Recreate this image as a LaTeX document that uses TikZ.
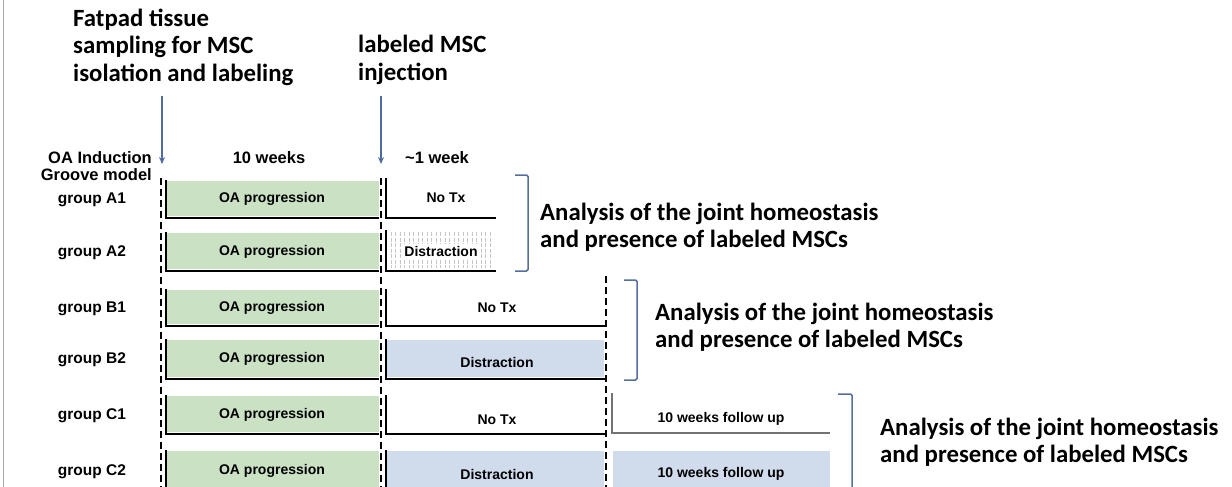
\documentclass[tikz,border=0pt]{standalone}
\usepackage{fontspec}
\setmainfont{Carlito}
\newfontfamily\ar{Liberation Sans}
\usetikzlibrary{arrows.meta}
\definecolor{oagreen}{RGB}{202,225,196}
\definecolor{oablue}{RGB}{208,219,236}
\definecolor{bracecol}{RGB}{84,110,160}
\definecolor{arrcol}{RGB}{80,108,158}
\begin{document}
\begin{tikzpicture}[x=1pt,y=-1pt,
  big/.style={font=\bfseries\fontsize{24.8}{27.5}\selectfont, align=left, inner sep=0pt, anchor=west},
  hdr/.style={font=\ar\bfseries\fontsize{16.5}{17}\selectfont, inner sep=0pt},
  grp/.style={font=\ar\bfseries\fontsize{15.5}{17}\selectfont, inner sep=0pt},
  small/.style={font=\ar\bfseries\fontsize{14}{16}\selectfont, inner sep=1pt},
  dashv/.style={line width=2pt, dash pattern=on 7pt off 4pt},
  frame/.style={line width=2pt, black},
  gframe/.style={line width=1.5pt, black!55},
  brk/.style={draw=bracecol, line width=1.5pt, rounded corners=1.5pt},
  arr/.style={-{Stealth[length=7pt,width=6pt]}, draw=arrcol, line width=1.3pt}]
\useasboundingbox (0,0) rectangle (1232,487);
\draw[black!35, line width=1pt] (3,0) -- (3,487);

% top labels
\node[big] (fat) at (73,47) {Fatpad tissue\\sampling for MSC\\isolation and labeling};
\node[big] (inj) at (358,60) {labeled MSC\\injection};
\coordinate (a1s) at (162,96);
\coordinate (a1e) at (162,164);
\coordinate (a2s) at (381,96);
\coordinate (a2e) at (381,164);
\draw[arr] (a1s) -- (a1e);
\draw[arr] (a2s) -- (a2e);

% headers
\node[hdr, align=right, anchor=east] (oai) at (152,166) {OA Induction\\Groove model};
\node[hdr] (w10) at (269,158) {10 weeks};
\node[hdr] (w1) at (437,158) {\textasciitilde 1 week};

% dashed timeline lines
\coordinate (d1t) at (161,178); \coordinate (d1b) at (161,490);
\coordinate (d2t) at (381,178); \coordinate (d2b) at (381,490);
\coordinate (d3t) at (606,276); \coordinate (d3b) at (606,490);
\draw[dashv] (d1t) -- (d1b);
\draw[dashv] (d2t) -- (d2b);
\draw[dashv] (d3t) -- (d3b);

% rows: green OA progression boxes
\foreach \t/\b/\g/\nm in {180/218/group A1/A1, 232/271/group A2/A2, 289/326/group B1/B1, 339/379/group B2/B2, 395/434/group C1/C1, 450/492/group C2/C2}{
  \fill[oagreen] (167,\t+1) rectangle (379,\b-2);
  \draw[frame] (166,\t) -- (166,\b) -- (379,\b);
  \node[small] (oa\nm) at (272,{(\t+\b)/2}) {OA progression};
  \node[grp] (g\nm) at (92,{(\t+\b)/2+1}) {\g};
}

% group A treatments
\draw[frame] (386,178) -- (386,218) -- (496,218);
\node[small] (txA1) at (446,198) {No Tx};
\foreach \x in {391,395.5,...,494}{
  \draw[black!22, line width=0.8pt, dash pattern=on 4pt off 1.5pt] (\x,232) -- (\x,268);
}
\draw[frame] (386,230) -- (386,271) -- (496,271);
\node[small, fill=white, inner sep=2pt] (txA2) at (441,251) {Distraction};

% group B treatments
\draw[frame] (386,289) -- (386,326) -- (605,326);
\node[small] (txB1) at (497,308) {No Tx};
\fill[oablue] (387,340) rectangle (604,377);
\draw[frame] (386,339) -- (386,379) -- (605,379);
\node[small] (txB2) at (497,362) {Distraction};

% group C treatments
\draw[frame] (386,395) -- (386,434) -- (605,434);
\node[small] (txC1) at (497,420) {No Tx};
\fill[oablue] (387,451) rectangle (604,490);
\draw[frame] (386,450) -- (386,490);
\node[small] (txC2) at (497,474) {Distraction};
\draw[gframe] (612,393) -- (612,433) -- (830,433);
\node[small] (fuC1) at (721,419) {10 weeks follow up};
\fill[oablue] (613,451) rectangle (830,490);
\node[small] (fuC2) at (721,474) {10 weeks follow up};

% brackets and analysis text
\draw[brk] (515,175) -- (528,175) -- (528,271) -- (515,271);
\node[big] (anA) at (540,227) {Analysis of the joint homeostasis\\and presence of labeled MSCs};
\draw[brk] (624,280) -- (637,280) -- (637,380) -- (624,380);
\node[big] (anB) at (655,327) {Analysis of the joint homeostasis\\and presence of labeled MSCs};
\draw[brk] (838,394) -- (852,394) -- (852,490);
\node[big] (anC) at (880,442) {Analysis of the joint homeostasis\\and presence of labeled MSCs};
\end{tikzpicture}
\end{document}
